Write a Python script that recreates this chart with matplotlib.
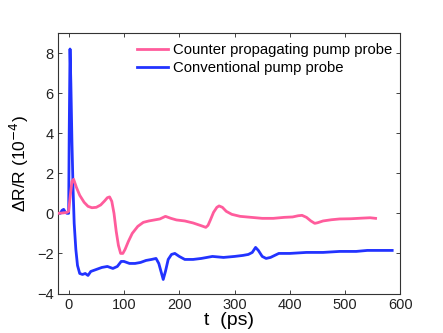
import matplotlib
matplotlib.use("Agg")
import matplotlib.pyplot as plt

plt.rcParams['font.family'] = ['Liberation Sans', 'DejaVu Sans']

# Counter propagating pump probe
t_counter = [-20, -10, -3, 0, 3, 6, 9, 14, 20, 28, 35, 42, 50, 58, 65, 70, 74, 78, 82, 86, 90, 94, 98, 102, 108, 115, 125,
             135, 145, 155, 165, 175, 185, 195, 210, 225, 240, 248, 252, 256, 262, 268, 272, 278, 285, 295, 310, 330,
             350, 370, 390, 405, 415, 422, 430, 438, 445, 450, 460, 475, 490, 510, 530, 545, 555]
v_counter = [0.0, 0.02, 0.05, 0.1, 0.9, 1.6, 1.7, 1.3, 0.9, 0.55, 0.35, 0.28, 0.3, 0.42, 0.62, 0.78, 0.82, 0.6, 0.0, -0.9,
             -1.6, -2.0, -2.0, -1.8, -1.4, -1.0, -0.65, -0.45, -0.38, -0.33, -0.28, -0.15, -0.25, -0.33, -0.38, -0.48,
             -0.62, -0.7, -0.6, -0.35, 0.05, 0.3, 0.37, 0.3, 0.1, -0.05, -0.15, -0.2, -0.25, -0.25, -0.2, -0.18, -0.12,
             -0.1, -0.2, -0.38, -0.5, -0.47, -0.38, -0.32, -0.28, -0.27, -0.24, -0.22, -0.25]

# Conventional pump probe
t_conv = [-20, -15, -12, -9, -6, -3, 0, 1, 2.5, 4, 6, 8, 10, 13, 16, 20, 25, 30, 35, 40, 50, 60, 70, 80, 88, 95, 100, 110,
          120, 130, 140, 150, 158, 163, 168, 171, 175, 180, 186, 192, 200, 210, 225, 240, 260, 280, 300, 315, 325, 332,
          338, 343, 350, 357, 365, 380, 400, 430, 460, 490, 520, 540, 560, 585]
v_conv = [0.0, 0.0, 0.15, 0.2, 0.05, 0.0, 0.0, 4.0, 8.2, 6.5, 3.5, 1.2, -0.5, -1.8, -2.6, -3.0, -3.05, -3.0, -3.1, -2.9,
          -2.8, -2.7, -2.65, -2.75, -2.65, -2.4, -2.4, -2.5, -2.5, -2.45, -2.35, -2.3, -2.25, -2.5, -3.0, -3.3, -2.9,
          -2.3, -2.05, -2.0, -2.15, -2.3, -2.3, -2.25, -2.15, -2.2, -2.15, -2.1, -2.05, -1.95, -1.7, -1.85, -2.15,
          -2.25, -2.2, -2.0, -2.0, -1.95, -1.95, -1.9, -1.9, -1.85, -1.85, -1.85]

x_ticks = [0, 100, 200, 300, 400, 500, 600]
y_ticks = [-4, -2, 0, 2, 4, 6, 8]

fig = plt.figure(figsize=(4.43, 3.33), dpi=100)
ax = fig.add_axes([0.130, 0.1186, 0.774, 0.7824])

ax.plot(t_counter, v_counter, color='#FF5C9C', lw=2.0, label='Counter propagating pump probe', zorder=3)
ax.plot(t_conv, v_conv, color='#2233FF', lw=2.0, label='Conventional pump probe', zorder=2)

ax.set_xlim(-20, 600)
ax.set_ylim(-4, 9)
ax.set_xticks(x_ticks)
ax.set_yticks(y_ticks)
ax.set_xticklabels([str(v) for v in x_ticks])
ax.set_yticklabels([str(v).replace('-', '\u2212') for v in y_ticks])
ax.tick_params(direction='in', length=3, width=0.6, labelsize=10.5, top=True, right=True, pad=3, colors='#222222')
for s in ax.spines.values():
    s.set_linewidth(0.8)
    s.set_color('#333333')

ax.set_xlabel('t  (ps)', fontsize=14, labelpad=0.5)
ax.set_ylabel('\u0394R/R (10$^{\u22124}$)', fontsize=12.5, labelpad=4)

leg = ax.legend(loc='upper right', frameon=False, fontsize=10.7, handlelength=2.1, handletextpad=0.3,
                labelspacing=0.25, borderaxespad=0.3, bbox_to_anchor=(1.005, 1.0))

fig.savefig('out.png', dpi=100)
